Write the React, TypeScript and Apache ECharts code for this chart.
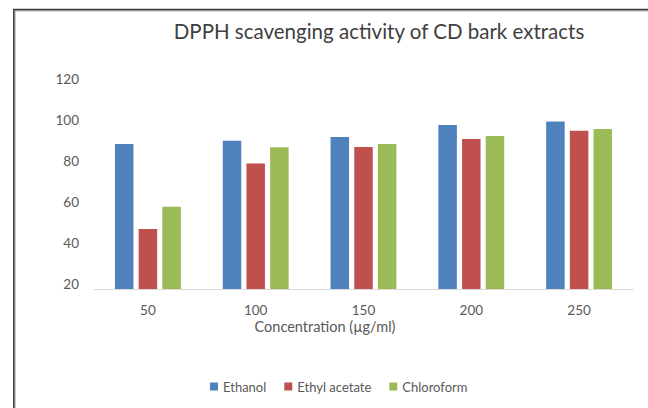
import React, { useEffect, useRef } from "react";
import * as echarts from "echarts";

const concentrations = ["50", "100", "150", "200", "250"];
const ethanol = [88.3, 89.9, 91.7, 97.6, 99.2];
const ethylAcetate = [46.8, 78.7, 86.8, 90.7, 94.8];
const chloroform = [57.6, 86.7, 88.3, 92.2, 95.6];
const yTicks = [20, 40, 60, 80, 100, 120];

const FONT = "Lato";

export default function App() {
  const ref = useRef<HTMLDivElement>(null);

  useEffect(() => {
    if (!ref.current) return;
    const chart = echarts.init(ref.current, null, { renderer: "svg" });
    chart.setOption({
      animation: false,
      backgroundColor: "#ffffff",
      title: {
        text: "DPPH scavenging activity of CD bark extracts",
        left: 374,
        top: 15,
        textAlign: "center",
        textStyle: { fontFamily: FONT, fontSize: 20.5, fontWeight: "normal", color: "#404040" },
      },
      legend: {
        bottom: 10,
        left: 205,
        itemWidth: 8,
        itemHeight: 8,
        itemGap: 18,
        icon: "rect",
        textStyle: { fontFamily: FONT, fontSize: 13, color: "#595959" },
        data: ["Ethanol", "Ethyl acetate", "Chloroform"],
      },
      grid: { left: 94, right: 15, top: 79, bottom: 119, containLabel: false },
      xAxis: {
        type: "category",
        data: concentrations,
        axisLine: { lineStyle: { color: "#d9d9d9", width: 1 } },
        axisTick: { show: false },
        axisLabel: { margin: 14, fontFamily: FONT, fontSize: 13.5, color: "#595959" },
      },
      yAxis: {
        type: "value",
        min: 17.5,
        max: 120,
        axisLine: { show: false },
        axisTick: { show: false },
        splitLine: { show: false },
        axisLabel: {
          customValues: yTicks,
          margin: 15,
          fontFamily: FONT,
          fontSize: 13.5,
          color: "#595959",
        },
      },
      graphic: [
        {
          type: "text",
          x: 325,
          y: 326,
          style: {
            text: "Concentration (µg/ml)",
            fontFamily: FONT,
            fontSize: 14.5,
            fill: "#595959",
            align: "center",
            verticalAlign: "middle",
          },
        },
        {
          type: "polyline",
          shape: { points: [[15.2, 408], [15.2, 11], [648, 11]] },
          style: { stroke: "#c0c0c0", lineWidth: 1.2, fill: "none" },
        },
        {
          type: "polyline",
          shape: { points: [[13.8, 408], [13.8, 9.6], [648, 9.6]] },
          style: { stroke: "#404040", lineWidth: 1.6, fill: "none" },
        },
      ],
      series: [
        { name: "Ethanol", type: "bar", data: ethanol, barWidth: 18.5, barGap: "28%", itemStyle: { color: "#4f81bd" } },
        { name: "Ethyl acetate", type: "bar", data: ethylAcetate, barWidth: 18.5, barGap: "28%", itemStyle: { color: "#c0504d" } },
        { name: "Chloroform", type: "bar", data: chloroform, barWidth: 18.5, barGap: "28%", itemStyle: { color: "#9bbb59" } },
      ],
    });
    return () => chart.dispose();
  }, []);

  return <div ref={ref} style={{ width: 648, height: 408, position: "absolute", left: 0, top: 0 }} />;
}
